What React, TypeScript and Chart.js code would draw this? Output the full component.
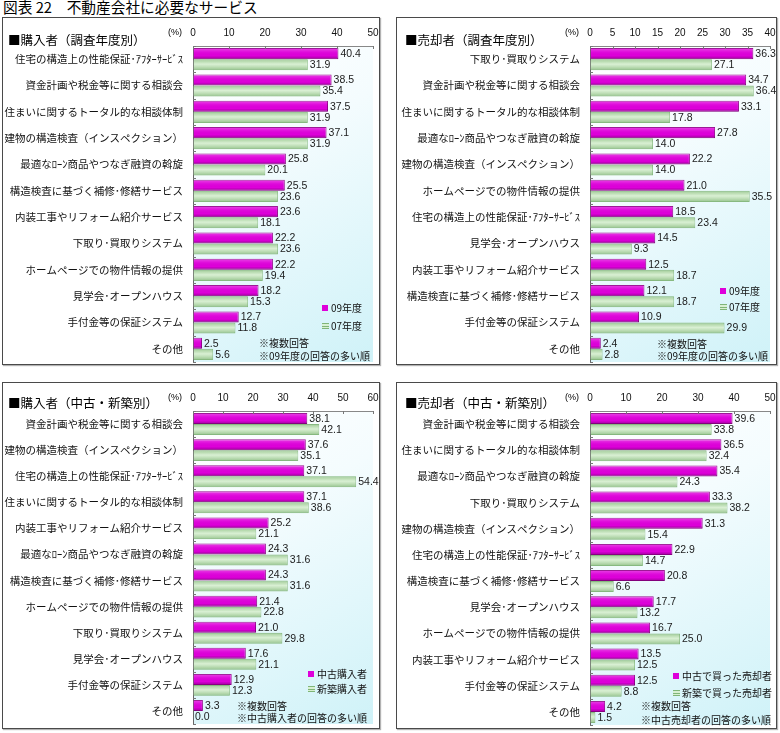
import { useEffect, useRef } from 'react';
import { Chart, registerables } from 'chart.js';

Chart.register(...registerables);

const JP = '"Noto Sans CJK JP", "Noto Sans", sans-serif';
const NUM = '"Liberation Sans", Arial, sans-serif';

const MAGENTA = '#de00da';
const MAGENTA_EDGE = '#92008a';
const GREEN = '#c4e7bb';
const GREEN_EDGE = '#8fbf88';

// ■購入者（調査年度別）
const buyerYearCategories = [
  '住宅の構造上の性能保証･ｱﾌﾀｰｻｰﾋﾞｽ',
  '資金計画や税金等に関する相談会',
  '住まいに関するトータル的な相談体制',
  '建物の構造検査（インスペクション）',
  '最適なﾛｰﾝ商品やつなぎ融資の斡旋',
  '構造検査に基づく補修･修繕サービス',
  '内装工事やリフォーム紹介サービス',
  '下取り･買取りシステム',
  'ホームページでの物件情報の提供',
  '見学会･オープンハウス',
  '手付金等の保証システム',
  'その他',
];
const buyerYear09 = [40.4, 38.5, 37.5, 37.1, 25.8, 25.5, 23.6, 22.2, 22.2, 18.2, 12.7, 2.5];
const buyerYear07 = [31.9, 35.4, 31.9, 31.9, 20.1, 23.6, 18.1, 23.6, 19.4, 15.3, 11.8, 5.6];

// ■売却者（調査年度別）
const sellerYearCategories = [
  '下取り･買取りシステム',
  '資金計画や税金等に関する相談会',
  '住まいに関するトータル的な相談体制',
  '最適なﾛｰﾝ商品やつなぎ融資の斡旋',
  '建物の構造検査（インスペクション）',
  'ホームページでの物件情報の提供',
  '住宅の構造上の性能保証･ｱﾌﾀｰｻｰﾋﾞｽ',
  '見学会･オープンハウス',
  '内装工事やリフォーム紹介サービス',
  '構造検査に基づく補修･修繕サービス',
  '手付金等の保証システム',
  'その他',
];
const sellerYear09 = [36.3, 34.7, 33.1, 27.8, 22.2, 21.0, 18.5, 14.5, 12.5, 12.1, 10.9, 2.4];
const sellerYear07 = [27.1, 36.4, 17.8, 14.0, 14.0, 35.5, 23.4, 9.3, 18.7, 18.7, 29.9, 2.8];

// ■購入者（中古・新築別）
const buyerTypeCategories = [
  '資金計画や税金等に関する相談会',
  '建物の構造検査（インスペクション）',
  '住宅の構造上の性能保証･ｱﾌﾀｰｻｰﾋﾞｽ',
  '住まいに関するトータル的な相談体制',
  '内装工事やリフォーム紹介サービス',
  '最適なﾛｰﾝ商品やつなぎ融資の斡旋',
  '構造検査に基づく補修･修繕サービス',
  'ホームページでの物件情報の提供',
  '下取り･買取りシステム',
  '見学会･オープンハウス',
  '手付金等の保証システム',
  'その他',
];
const buyerUsed = [38.1, 37.6, 37.1, 37.1, 25.2, 24.3, 24.3, 21.4, 21.0, 17.6, 12.9, 3.3];
const buyerNew = [42.1, 35.1, 54.4, 38.6, 21.1, 31.6, 31.6, 22.8, 29.8, 21.1, 12.3, 0.0];

// ■売却者（中古・新築別）
const sellerTypeCategories = [
  '資金計画や税金等に関する相談会',
  '住まいに関するトータル的な相談体制',
  '最適なﾛｰﾝ商品やつなぎ融資の斡旋',
  '下取り･買取りシステム',
  '建物の構造検査（インスペクション）',
  '住宅の構造上の性能保証･ｱﾌﾀｰｻｰﾋﾞｽ',
  '構造検査に基づく補修･修繕サービス',
  '見学会･オープンハウス',
  'ホームページでの物件情報の提供',
  '内装工事やリフォーム紹介サービス',
  '手付金等の保証システム',
  'その他',
];
const sellerUsed = [39.6, 36.5, 35.4, 33.3, 31.3, 22.9, 20.8, 17.7, 16.7, 13.5, 12.5, 4.2];
const sellerNew = [33.8, 32.4, 24.3, 38.2, 15.4, 14.7, 6.6, 13.2, 25.0, 12.5, 8.8, 1.5];

type Panel = {
  title: string;
  categories: string[];
  a: number[];
  b: number[];
  nameA: string;
  nameB: string;
  notes: string[];
  max: number;
  step: number;
  box: { left: number; top: number; width: number; height: number };
  axisW: number;
  padR: number;
  padB: number;
  titleX: number;
  titleY: number;
  legend: { dx: number; y1: number; y2: number; ndx: number; n1: number; n2: number };
};

const panels: Panel[] = [
  {
    title: '■購入者（調査年度別）',
    categories: buyerYearCategories,
    a: buyerYear09,
    b: buyerYear07,
    nameA: '09年度',
    nameB: '07年度',
    notes: ['※複数回答', '※09年度の回答の多い順'],
    max: 50,
    step: 10,
    box: { left: 2, top: 17, width: 378, height: 348 },
    axisW: 190,
    padR: 6,
    padB: 2,
    titleX: 5,
    titleY: 22,
    legend: { dx: -51, y1: -54, y2: -36, ndx: -114, n1: -19, n2: -6 },
  },
  {
    title: '■売却者（調査年度別）',
    categories: sellerYearCategories,
    a: sellerYear09,
    b: sellerYear07,
    nameA: '09年度',
    nameB: '07年度',
    notes: ['※複数回答', '※09年度の回答の多い順'],
    max: 40,
    step: 5,
    box: { left: 396, top: 17, width: 381, height: 348 },
    axisW: 193,
    padR: 6,
    padB: 2,
    titleX: 8,
    titleY: 22,
    legend: { dx: -50, y1: -71, y2: -55, ndx: -113, n1: -18, n2: -6 },
  },
  {
    title: '■購入者（中古・新築別）',
    categories: buyerTypeCategories,
    a: buyerUsed,
    b: buyerNew,
    nameA: '中古購入者',
    nameB: '新築購入者',
    notes: ['※複数回答', '※中古購入者の回答の多い順'],
    max: 60,
    step: 10,
    box: { left: 2, top: 382, width: 378, height: 347 },
    axisW: 190,
    padR: 6,
    padB: 4,
    titleX: 5,
    titleY: 20,
    legend: { dx: -65, y1: -50, y2: -35, ndx: -136, n1: -18, n2: -6 },
  },
  {
    title: '■売却者（中古・新築別）',
    categories: sellerTypeCategories,
    a: sellerUsed,
    b: sellerNew,
    nameA: '中古で買った売却者',
    nameB: '新築で買った売却者',
    notes: ['※複数回答', '※中古売却者の回答の多い順'],
    max: 50,
    step: 10,
    box: { left: 396, top: 382, width: 381, height: 347 },
    axisW: 193,
    padR: 6,
    padB: 3,
    titleX: 8,
    titleY: 20,
    legend: { dx: -97, y1: -49, y2: -32, ndx: -129, n1: -19, n2: -5 },
  },
];

function greenMarker(ctx: CanvasRenderingContext2D, x: number, y: number) {
  ctx.fillStyle = '#d8f0d2';
  ctx.fillRect(x, y - 3, 7, 6);
  ctx.strokeStyle = '#7fb578';
  ctx.lineWidth = 1;
  for (const off of [-2.5, 0.5, 2.5]) {
    ctx.beginPath();
    ctx.moveTo(x, y + off);
    ctx.lineTo(x + 7, y + off);
    ctx.stroke();
  }
}

function decorPlugin(p: Panel) {
  return {
    id: 'panelDecor',
    beforeDraw(chart: any) {
      const { ctx, chartArea: a } = chart;
      ctx.save();
      const g = ctx.createLinearGradient(a.left, a.top, a.right, a.bottom);
      g.addColorStop(0, '#ffffff');
      g.addColorStop(0.35, '#f4fcfe');
      g.addColorStop(1, '#cff2f8');
      ctx.fillStyle = g;
      ctx.fillRect(a.left, a.top, a.right - a.left, a.bottom - a.top);
      ctx.restore();
    },
    afterDatasetsDraw(chart: any) {
      const { ctx } = chart;
      ctx.save();
      chart.data.datasets.forEach((ds: any, di: number) => {
        const meta = chart.getDatasetMeta(di);
        meta.data.forEach((el: any, i: number) => {
          const { x, y, base, height } = el.getProps(['x', 'y', 'base', 'height'], true);
          const l = Math.min(x, base);
          const w = Math.abs(x - base);
          const t = y - height / 2;
          if (w > 0.5) {
            const g = ctx.createLinearGradient(0, t, 0, t + height);
            if (di === 0) {
              g.addColorStop(0, 'rgba(255,255,255,0.28)');
              g.addColorStop(0.35, 'rgba(255,255,255,0.05)');
              g.addColorStop(0.7, 'rgba(0,0,0,0)');
              g.addColorStop(1, 'rgba(70,0,70,0.35)');
            } else {
              g.addColorStop(0, 'rgba(90,150,80,0.35)');
              g.addColorStop(0.45, 'rgba(255,255,255,0.35)');
              g.addColorStop(1, 'rgba(90,150,80,0.45)');
            }
            ctx.fillStyle = g;
            ctx.fillRect(l + 0.5, t + 0.5, w - 1, height - 1);
          }
          const v = ds.data[i] as number;
          ctx.fillStyle = '#1a1a1a';
          ctx.font = `10.5px ${NUM}`;
          ctx.textAlign = 'left';
          ctx.textBaseline = 'middle';
          ctx.fillText(v.toFixed(1), Math.max(x, base) + 2, y + 0.5);
        });
      });
      ctx.restore();
    },
    afterDraw(chart: any) {
      const { ctx, chartArea: a, scales } = chart;
      ctx.save();
      // small inward tick marks on the value axis
      ctx.strokeStyle = '#777';
      ctx.lineWidth = 1;
      for (let v = 0; v <= p.max; v += p.step) {
        const px = Math.round(scales.x.getPixelForValue(v)) + 0.5;
        ctx.beginPath();
        ctx.moveTo(px, a.top);
        ctx.lineTo(px, a.top + 3);
        ctx.stroke();
      }
      // category boundary marks on the left axis
      const n = p.categories.length;
      const band = (a.bottom - a.top) / n;
      for (let i = 0; i <= n; i++) {
        const py = Math.round(a.top + i * band) + 0.5;
        ctx.beginPath();
        ctx.moveTo(a.left, py);
        ctx.lineTo(a.left + 3, py);
        ctx.stroke();
      }
      // panel heading and unit
      ctx.fillStyle = '#000';
      ctx.textBaseline = 'middle';
      ctx.textAlign = 'left';
      ctx.font = `12.5px ${JP}`;
      ctx.fillText(p.title, p.titleX, p.titleY);
      ctx.font = `9px ${NUM}`;
      ctx.textAlign = 'right';
      ctx.fillText('(%)', a.left - 11, 15);
      // legend
      const L = p.legend;
      const lx = a.right + L.dx;
      ctx.fillStyle = MAGENTA;
      ctx.fillRect(lx, a.bottom + L.y1 - 3, 6, 6);
      greenMarker(ctx, lx, a.bottom + L.y2);
      ctx.fillStyle = '#111';
      ctx.textAlign = 'left';
      ctx.font = `10px ${JP}`;
      ctx.fillText(p.nameA, lx + 9, a.bottom + L.y1);
      ctx.fillText(p.nameB, lx + 9, a.bottom + L.y2);
      // notes
      const nx = a.right + L.ndx;
      ctx.fillText(p.notes[0], nx, a.bottom + L.n1);
      ctx.fillText(p.notes[1], nx, a.bottom + L.n2);
      ctx.restore();
    },
  };
}

function PanelChart({ p }: { p: Panel }) {
  const ref = useRef<HTMLCanvasElement | null>(null);
  const cw = p.box.width - 2;
  const ch = p.box.height - 2;

  useEffect(() => {
    if (!ref.current) return;
    const chart = new Chart(ref.current, {
      type: 'bar',
      data: {
        labels: p.categories,
        datasets: [
          {
            label: p.nameA,
            data: p.a,
            backgroundColor: MAGENTA,
            borderColor: MAGENTA_EDGE,
            borderWidth: 1,
            categoryPercentage: 0.84,
            barPercentage: 1,
          },
          {
            label: p.nameB,
            data: p.b,
            backgroundColor: GREEN,
            borderColor: GREEN_EDGE,
            borderWidth: 1,
            categoryPercentage: 0.84,
            barPercentage: 1,
          },
        ],
      },
      options: {
        indexAxis: 'y',
        responsive: false,
        maintainAspectRatio: false,
        animation: false,
        devicePixelRatio: 1,
        layout: { padding: { left: 0, top: 0, right: p.padR, bottom: p.padB } },
        plugins: {
          legend: { display: false },
          tooltip: { enabled: false },
          title: { display: false },
        },
        scales: {
          x: {
            position: 'top',
            min: 0,
            max: p.max,
            ticks: {
              stepSize: p.step,
              font: { family: NUM, size: 10 },
              color: '#111',
              padding: 7,
              maxRotation: 0,
              autoSkip: false,
            },
            grid: { display: true, drawOnChartArea: false, drawTicks: false },
            border: { display: true, color: '#888' },
            afterFit: (s: any) => {
              s.height = 28;
              s.paddingLeft = 0;
              s.paddingRight = 0;
            },
          },
          y: {
            ticks: {
              font: { family: JP, size: 10.5 },
              color: '#111',
              padding: 10,
              autoSkip: false,
            },
            grid: { display: true, drawOnChartArea: false, drawTicks: false },
            border: { display: true, color: '#666' },
            afterFit: (s: any) => {
              s.width = p.axisW;
              s.paddingTop = 0;
              s.paddingBottom = 0;
            },
          },
        },
      },
      plugins: [decorPlugin(p)],
    } as any);
    return () => chart.destroy();
  }, [p]);

  return (
    <div
      style={{
        position: 'absolute',
        left: p.box.left,
        top: p.box.top,
        width: cw,
        height: ch,
        border: '1px solid #4a4a4a',
        boxShadow: '1px 1px 1px rgba(0,0,0,0.3)',
        background: '#fff',
      }}
    >
      <canvas
        ref={ref}
        width={cw}
        height={ch}
        style={{ position: 'absolute', left: 0, top: 0, width: cw, height: ch }}
      />
    </div>
  );
}

export default function App() {
  return (
    <div
      style={{
        position: 'absolute',
        left: 0,
        top: 0,
        width: 780,
        height: 733,
        background: '#fff',
        fontFamily: JP,
        overflow: 'hidden',
      }}
    >
      <div
        style={{
          position: 'absolute',
          left: 3,
          top: 0,
          fontSize: 14.7,
          lineHeight: '14px',
          color: '#000',
          whiteSpace: 'pre',
        }}
      >
        {'図表 22　不動産会社に必要なサービス'}
      </div>
      {panels.map((p) => (
        <PanelChart key={p.title} p={p} />
      ))}
    </div>
  );
}
